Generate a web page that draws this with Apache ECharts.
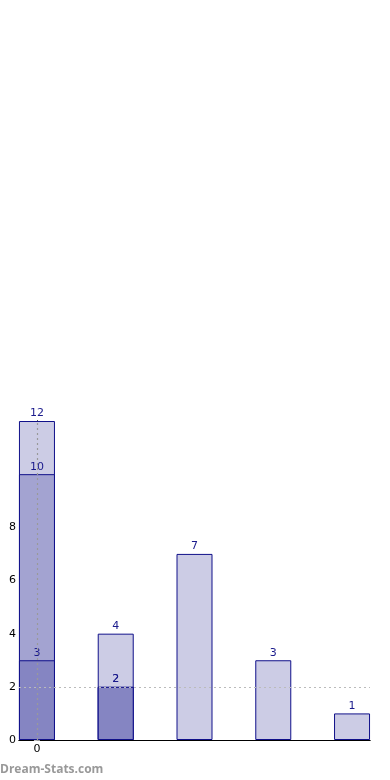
<!DOCTYPE html>
<html><head><meta charset="utf-8">
<script src="https://cdn.jsdelivr.net/npm/echarts@6/dist/echarts.min.js"></script>
<style>html,body{margin:0;padding:0;background:#fff}#c{width:390px;height:780px}</style>
</head><body><div id="c"></div>
<script>
const positions = [0, 1, 2, 3, 4];
const totalValues = [12, 4, 7, 3, 1];
const midValues = [10, 2, null, null, null];
const lowValues = [3, 2, null, null, null];
const yTickLabels = [0, 2, 4, 6, 8];
const xTickLabels = [0];
const refY = 2;
const refX = 0;

const pairs = vals => positions.map((p, i) => [p, vals[i]]).filter(d => d[1] != null);
const font = 'DejaVu Sans';
const navy = '#1a1a8c';
const mk = (name, vals, color) => ({
  name, type: 'bar', data: pairs(vals), barWidth: 36, barGap: '-100%',
  itemStyle: {color, borderColor: '#10108a', borderWidth: 1},
  label: {show: true, position: 'top', distance: 2, color: navy, fontFamily: font, fontSize: 11},
  animation: false
});
const chart = echarts.init(document.getElementById('c'), null, {renderer: 'canvas'});
chart.setOption({
  animation: false,
  grid: {left: 19, right: 20, top: 421, bottom: 40},
  xAxis: [{
    type: 'value', min: -0.228, max: 4.228, position: 'bottom',
    splitLine: {show: false},
    axisLine: {show: true, lineStyle: {color: '#000', width: 1}},
    axisTick: {show: true, inside: true, length: 3, lineStyle: {color: '#999'}, customValues: xTickLabels},
    axisLabel: {show: true, customValues: xTickLabels, color: '#000', fontFamily: font, fontSize: 11, margin: 4}
  }, {
    type: 'value', min: -0.228, max: 4.228, position: 'top',
    splitLine: {show: false}, axisTick: {show: false}, axisLabel: {show: false},
    axisLine: {show: true, lineStyle: {color: '#000', width: 1}}
  }],
  yAxis: [{
    type: 'value', min: 0, max: 12, interval: 2, position: 'left',
    splitLine: {show: false},
    axisLine: {show: true, lineStyle: {color: '#000', width: 1}},
    axisTick: {show: true, inside: true, length: 3, lineStyle: {color: '#999'}},
    axisLabel: {show: true, customValues: yTickLabels, color: '#000', fontFamily: font, fontSize: 11, margin: 3}
  }, {
    type: 'value', min: 0, max: 12, interval: 2, position: 'right',
    splitLine: {show: false},
    axisLine: {show: true, lineStyle: {color: '#000', width: 1}},
    axisTick: {show: true, inside: true, length: 3, lineStyle: {color: '#bbb'}},
    axisLabel: {show: false}
  }],
  series: [
    mk('total', totalValues, '#ccccE5'),
    mk('mid', midValues, '#a3a3d1'),
    mk('low', lowValues, '#8585c2'),
    {
      type: 'line', data: [], z: 10, silent: true,
      markLine: {
        silent: true, symbol: 'none', animation: false, label: {show: false},
        data: [
          {yAxis: refY, lineStyle: {color: '#bbbbbb', type: [2, 3], width: 1}},
          {xAxis: refX, lineStyle: {color: '#999999', type: [2, 3], width: 1.2}}
        ]
      }
    }
  ],
  graphic: [{
    type: 'text', left: 0, top: 764,
    style: {text: 'Dream-Stats.com', fill: '#999', font: 'bold 12px "Open Sans"'}
  }]
});
</script></body></html>
